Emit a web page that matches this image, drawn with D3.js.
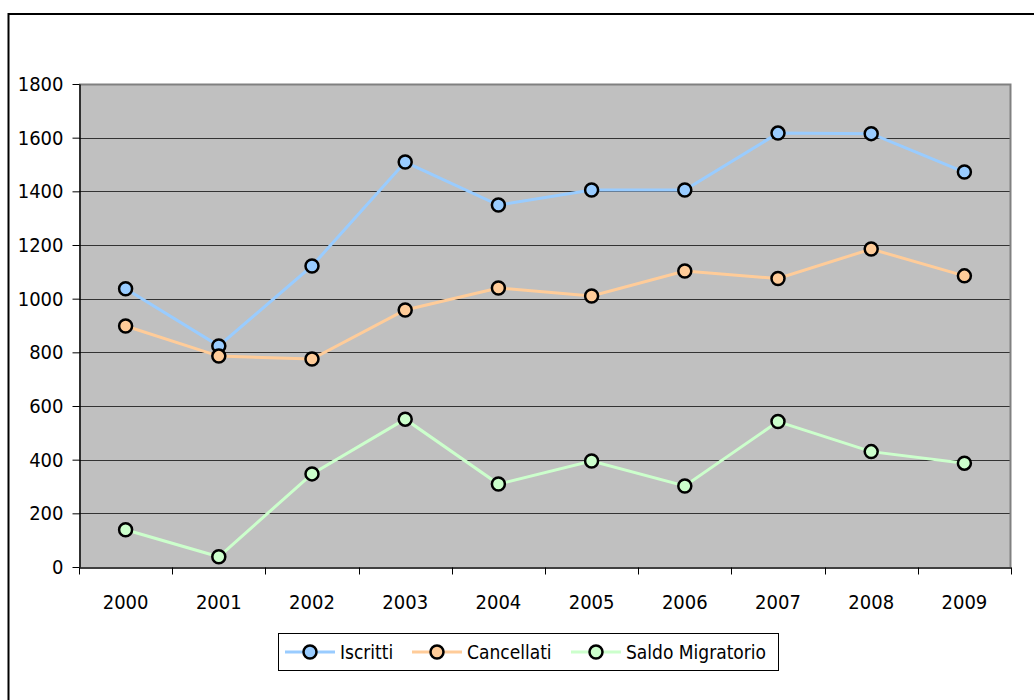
<!DOCTYPE html>
<html>
<head>
<meta charset="utf-8">
<script src="https://cdn.jsdelivr.net/npm/d3@7"></script>
<style>
    body { margin: 0; background: #fff; }
    svg { display: block; }
    text { font-family: "DejaVu Sans Condensed", "DejaVu Sans", sans-serif; font-size: 20px; fill: #000; }
    .legend text { font-size: 19px; }
</style>
</head>
<body>
<div id="chart"></div>
<script>
var years = ["2000", "2001", "2002", "2003", "2004", "2005", "2006", "2007", "2008", "2009"];
var iscritti = [1037, 824, 1122, 1509, 1349, 1405, 1405, 1617, 1615, 1472];
var cancellati = [898, 786, 775, 958, 1040, 1010, 1103, 1075, 1185, 1085];
var saldo = [139, 38, 347, 551, 309, 395, 302, 542, 430, 387];
var yTicks = [0, 200, 400, 600, 800, 1000, 1200, 1400, 1600, 1800];
var seriesNames = ["Iscritti", "Cancellati", "Saldo Migratorio"];
var seriesColors = ["#99CCFF", "#FFCC99", "#CCFFCC"];

var width = 1034;
var height = 700;
var plot = { left: 79, top: 84, right: 1011, bottom: 567 };

var series = [iscritti, cancellati, saldo].map(function (vals, i) {
    return { name: seriesNames[i], color: seriesColors[i], values: vals };
});

var svg = d3.select("#chart").append("svg")
    .attr("width", width)
    .attr("height", height);

//Outer chart border (runs past the right and bottom edges)
svg.append("rect")
    .attr("x", 8.5).attr("y", 14)
    .attr("width", width + 20).attr("height", height + 20)
    .attr("fill", "#fff")
    .attr("stroke", "#000")
    .attr("stroke-width", 2);

var x = d3.scaleBand()
    .domain(years)
    .range([plot.left, plot.right]);

var y = d3.scaleLinear()
    .domain([0, 1800])
    .range([plot.bottom, plot.top]);

//Plot background
svg.append("rect")
    .attr("x", plot.left).attr("y", plot.top)
    .attr("width", plot.right - plot.left)
    .attr("height", plot.bottom - plot.top)
    .attr("fill", "#C0C0C0");

//Gridlines
svg.append("g")
    .selectAll("line")
    .data(yTicks.filter(function (t) { return t > 0 && t < 1800; }))
    .enter().append("line")
    .attr("x1", plot.left).attr("x2", plot.right)
    .attr("y1", function (d) { return Math.round(y(d)) + 0.5; })
    .attr("y2", function (d) { return Math.round(y(d)) + 0.5; })
    .attr("stroke", "#333")
    .attr("stroke-width", 1);

//Gray top and right frame
svg.append("path")
    .attr("d", "M" + plot.left + "," + (plot.top + 0.5) + "H" + (plot.right - 0.5) + "V" + plot.bottom)
    .attr("fill", "none")
    .attr("stroke", "#808080")
    .attr("stroke-width", 2);

//Y axis
var yAxis = svg.append("g")
    .attr("transform", "translate(" + (plot.left + 0.5) + ",0)")
    .call(d3.axisLeft(y).tickValues(yTicks).tickFormat(d3.format("d"))
        .tickSize(7).tickPadding(9).tickSizeOuter(0));
yAxis.attr("font-family", null).attr("font-size", null);
yAxis.select(".domain").attr("stroke", "#000").attr("stroke-width", 1.5);
yAxis.selectAll(".tick line").attr("stroke", "#000");

//X axis with ticks between categories
var xAxis = svg.append("g")
    .attr("transform", "translate(0," + (plot.bottom + 0.5) + ")")
    .call(d3.axisBottom(x).tickSize(0).tickPadding(27).tickSizeOuter(0));
xAxis.attr("font-family", null).attr("font-size", null);
xAxis.select(".domain").attr("stroke", "#000").attr("stroke-width", 1.5);

xAxis.selectAll(".sep")
    .data(years.concat(["end"]))
    .enter().append("line")
    .attr("class", "sep")
    .attr("x1", function (d, i) { return Math.round(plot.left + i * x.step()) + 0.5; })
    .attr("x2", function (d, i) { return Math.round(plot.left + i * x.step()) + 0.5; })
    .attr("y1", 0).attr("y2", 7)
    .attr("stroke", "#000");

//Series lines and markers
var line = d3.line()
    .x(function (d, i) { return x(years[i]) + x.bandwidth() / 2; })
    .y(function (d) { return y(d); });

series.forEach(function (s) {
    svg.append("path")
        .datum(s.values)
        .attr("fill", "none")
        .attr("stroke", s.color)
        .attr("stroke-width", 3)
        .attr("d", line);
});

series.forEach(function (s) {
    svg.append("g")
        .selectAll("circle")
        .data(s.values)
        .enter().append("circle")
        .attr("cx", function (d, i) { return x(years[i]) + x.bandwidth() / 2; })
        .attr("cy", function (d) { return y(d); })
        .attr("r", 6.5)
        .attr("fill", s.color)
        .attr("stroke", "#000")
        .attr("stroke-width", 2.5);
});

//Legend
var legend = svg.append("g").attr("class", "legend");
legend.append("rect")
    .attr("x", 278.5).attr("y", 633.5)
    .attr("width", 500).attr("height", 37)
    .attr("fill", "#fff")
    .attr("stroke", "#000")
    .attr("stroke-width", 1);

var legendX = [310, 437, 596];
series.forEach(function (s, i) {
    var cx = legendX[i];
    legend.append("line")
        .attr("x1", cx - 25).attr("x2", cx + 25)
        .attr("y1", 652).attr("y2", 652)
        .attr("stroke", s.color)
        .attr("stroke-width", 3);
    legend.append("circle")
        .attr("cx", cx).attr("cy", 652)
        .attr("r", 6.5)
        .attr("fill", s.color)
        .attr("stroke", "#000")
        .attr("stroke-width", 2.5);
    legend.append("text")
        .attr("x", cx + 30).attr("y", 652)
        .attr("dy", "0.35em")
        .text(s.name);
});
</script>
</body>
</html>
